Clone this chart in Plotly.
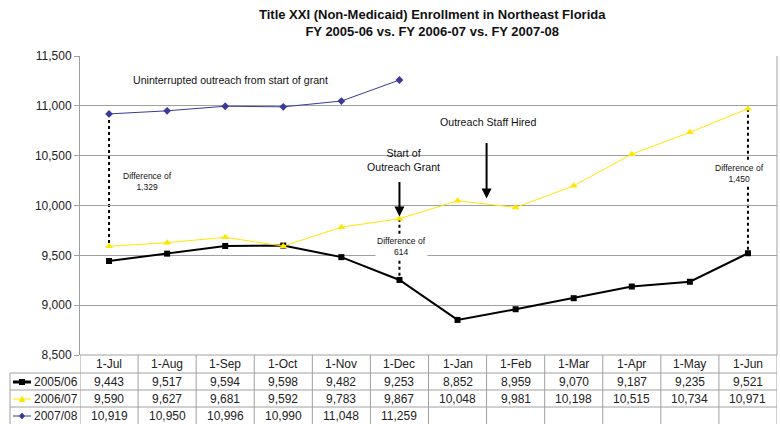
import plotly.graph_objects as go

months = ["1-Jul", "1-Aug", "1-Sep", "1-Oct", "1-Nov", "1-Dec",
          "1-Jan", "1-Feb", "1-Mar", "1-Apr", "1-May", "1-Jun"]
series_names = ["2005/06", "2006/07", "2007/08"]
fy0506 = [9443, 9517, 9594, 9598, 9482, 9253, 8852, 8959, 9070, 9187, 9235, 9521]
fy0607 = [9590, 9627, 9681, 9592, 9783, 9867, 10048, 9981, 10198, 10515, 10734, 10971]
fy0708 = [10919, 10950, 10996, 10990, 11048, 11259]
y_ticks = [8500, 9000, 9500, 10000, 10500, 11000, 11500]
title_lines = ["Title XXI (Non-Medicaid) Enrollment in Northeast Florida",
               "FY 2005-06 vs. FY 2006-07 vs. FY 2007-08"]

FONT = "Arial, Liberation Sans, sans-serif"
colors = ["#000000", "#FFE600", "#3A3A9A"]
symbols = ["square", "triangle-up", "diamond"]
widths = [2, 1, 1]
msizes = [6, 7, 6]
all_series = [fy0506, fy0607, fy0708]

W, H = 780, 424
L, R, T, B = 80, 3, 56, 69
PW = W - L - R
PH = H - T - B


def py(pix):  # pixel y -> paper y
    return (H - B - pix) / PH


def px(pix):  # pixel x -> paper x
    return (pix - L) / PW


fig = go.Figure()
idx = list(range(len(months)))
for s, name, c, sym, w, ms in zip(all_series, series_names, colors, symbols, widths, msizes):
    fig.add_trace(go.Scatter(
        x=idx[:len(s)], y=s, mode="lines+markers", name=name,
        line=dict(color=c, width=w),
        marker=dict(symbol=sym, size=ms, color=c),
        showlegend=False, cliponaxis=False))

shapes = []
annotations = []

# white boxes that break gridlines behind labels
shapes.append(dict(type="rect", xref="paper", yref="paper", layer="between",
                   x0=px(350), x1=px(456), y0=py(148), y1=py(176),
                   fillcolor="white", line=dict(width=0)))
shapes.append(dict(type="rect", xref="paper", yref="paper", layer="between",
                   x0=px(367), x1=px(437), y0=py(236), y1=py(259),
                   fillcolor="white", line=dict(width=0)))

# dashed difference lines
for i, top, bot in [(0, fy0708[0], fy0607[0]), (5, fy0607[5], fy0506[5]), (11, fy0607[11], fy0506[11])]:
    shapes.append(dict(type="line", xref="x", yref="y", layer="below",
                       x0=i, x1=i, y0=top, y1=bot,
                       line=dict(color="black", width=2, dash="dot")))

# title
annotations.append(dict(text="<b>" + "<br>".join(title_lines) + "</b>",
                        x=px(432), y=py(23), xref="paper", yref="paper",
                        xanchor="center", yanchor="middle", showarrow=False,
                        font=dict(family=FONT, size=13, color="#111")))


# text annotations in chart
def txt(text, x, y, size, bg=None):
    d = dict(text=text, x=x, y=y, xref="x", yref="y", showarrow=False,
             xanchor="center", yanchor="middle",
             font=dict(family=FONT, size=size, color="#111"), align="center")
    if bg:
        d["bgcolor"] = bg
    annotations.append(d)

txt("Uninterrupted outreach from start of grant", 2.09, 11258, 10.6)
txt("Difference of<br>1,329", 0.67, 10242, 8.5)
txt("Difference of<br>614", 5.03, 9592, 8.5, "white")
txt("Difference of<br>1,450", 10.85, 10322, 8.5, "white")
txt("Start of<br>Outreach Grant", 5.07, 10453, 10.6)
txt("Outreach Staff Hired", 6.52, 10836, 10.6)

# arrows
annotations.append(dict(text="", x=5, y=9890, xref="x", yref="y", ax=0, ay=-36,
                        showarrow=True, arrowhead=2, arrowsize=1, arrowwidth=2,
                        arrowcolor="black", standoff=0))
annotations.append(dict(text="", x=6.5, y=10070, xref="x", yref="y", ax=0, ay=-57,
                        showarrow=True, arrowhead=2, arrowsize=1, arrowwidth=2,
                        arrowcolor="black", standoff=0))

# ---- data table ----
gc = "#A0A0A0"
row_pix = [355, 373, 390, 407, 430]
shapes.append(dict(type="line", xref="paper", yref="paper", x0=0, x1=1,
                   y0=py(355), y1=py(355), line=dict(color=gc, width=1)))
for rp in row_pix[1:4]:
    shapes.append(dict(type="line", xref="paper", yref="paper", x0=px(10), x1=1,
                       y0=py(rp), y1=py(rp), line=dict(color=gc, width=1)))
for k in range(len(months) + 1):
    shapes.append(dict(type="line", xref="x", yref="paper", x0=k - 0.5, x1=k - 0.5,
                       y0=py(355), y1=py(430), line=dict(color=gc, width=1)))
shapes.append(dict(type="line", xref="paper", yref="paper", x0=px(10), x1=px(10),
                   y0=py(373), y1=py(430), line=dict(color=gc, width=1)))
shapes.append(dict(type="line", xref="paper", yref="paper", x0=1, x1=1,
                   y0=0, y1=1, line=dict(color=gc, width=1)))

tf = dict(family=FONT, size=12, color="#222")
for i, m in enumerate(months):
    annotations.append(dict(text=m, x=i, y=py(364), xref="x", yref="paper",
                            xanchor="center", yanchor="middle",
                            showarrow=False, font=tf))
row_centers = [382, 399, 416]
for r, (s, name, c, sym) in enumerate(zip(all_series, series_names, colors, symbols)):
    yc = py(row_centers[r])
    for i, v in enumerate(s):
        annotations.append(dict(text=f"{v:,}", x=i, y=yc, xref="x", yref="paper",
                                xanchor="center", yanchor="middle",
                                showarrow=False, font=tf))
    annotations.append(dict(text=name, x=px(32), y=yc, xref="paper", yref="paper",
                            xanchor="left", yanchor="middle", showarrow=False, font=tf))
    shapes.append(dict(type="line", xref="paper", yref="paper", x0=px(13), x1=px(31),
                       y0=yc, y1=yc, line=dict(color=c, width=widths[r] + (1 if r == 0 else 0))))
    if sym == "square":
        path = "M -3 -3 L 3 -3 L 3 3 L -3 3 Z"
    elif sym == "triangle-up":
        path = "M -3.5 -3 L 3.5 -3 L 0 3.5 Z"
    else:
        path = "M 0 -3.5 L 3 0 L 0 3.5 L -3 0 Z"
    shapes.append(dict(type="path", xref="paper", yref="paper", xsizemode="pixel",
                       ysizemode="pixel", xanchor=px(22), yanchor=yc, path=path,
                       fillcolor=c, line=dict(color=c, width=0)))

fig.update_layout(
    width=W, height=H,
    margin=dict(l=L, r=R, t=T, b=B, pad=0),
    paper_bgcolor="white", plot_bgcolor="white",
    xaxis=dict(range=[-0.5, len(months) - 0.5], showticklabels=False, showgrid=False,
               zeroline=False, showline=False, ticks=""),
    yaxis=dict(range=[8500, 11500], tickvals=y_ticks, tickformat=",",
               showgrid=True, gridcolor=gc, gridwidth=1, zeroline=False,
               showline=True, linecolor=gc, linewidth=1,
               ticks="outside", ticklen=5, tickcolor=gc,
               tickfont=dict(family=FONT, size=12, color="#222")),
    shapes=shapes, annotations=annotations,
    showlegend=False,
)

fig.write_html("out.html", config={"displayModeBar": False},
               post_script="document.body.style.margin='0';document.body.style.overflow='hidden';")
